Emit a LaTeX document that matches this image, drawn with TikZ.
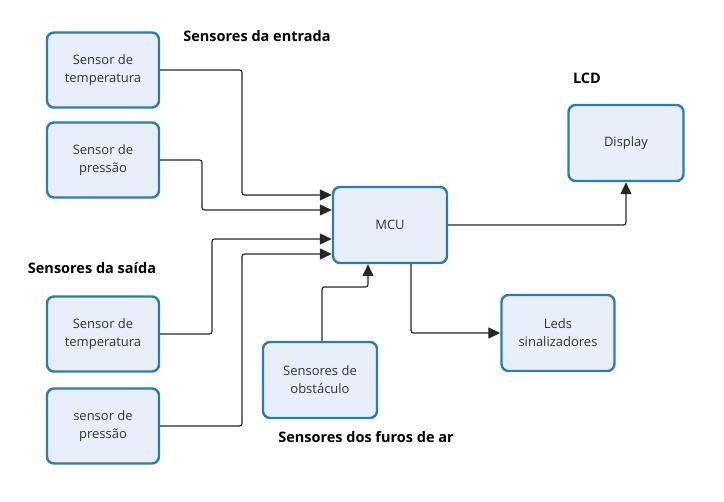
\documentclass[tikz,border=0pt]{standalone}
\usepackage{fontspec}
\setmainfont{Open Sans}
\usetikzlibrary{arrows.meta}
\definecolor{boxfill}{HTML}{E9EEFB}
\definecolor{boxline}{HTML}{2A7DB0}
\definecolor{boxtext}{HTML}{333333}
\tikzset{
  blk/.style={draw=boxline, line width=2.4pt, fill=boxfill, rounded corners=7pt,
    minimum width=112pt, minimum height=75pt, inner sep=0pt, align=center,
    text=boxtext, font=\fontsize{13}{18}\selectfont},
  conn/.style={draw=black!85, line width=1.2pt, rounded corners=2.5pt,
    -{Triangle[length=12pt,width=11pt]}},
  ttl/.style={font=\fontsize{14.5}{16}\selectfont\bfseries, text=black, inner sep=0pt}
}
\begin{document}
\begin{tikzpicture}[x=1pt,y=-1pt]
\useasboundingbox (0,0) rectangle (724,502);
\node[blk] (t1) at (103,70) {Sensor de\\temperatura};
\node[blk] (p1) at (103,160) {Sensor de\\pressão};
\node[blk] (t2) at (103,334) {Sensor de\\temperatura};
\node[blk] (p2) at (103,426) {sensor de\\pressão};
\node[blk, minimum width=114pt, minimum height=76pt] (mcu) at (390,225) {MCU};
\node[blk, minimum width=115pt, minimum height=76pt] (disp) at (626,143) {Display};
\node[blk, minimum width=113pt, minimum height=76pt] (leds) at (558,333) {Leds\\sinalizadores};
\node[blk, minimum width=114pt, minimum height=76pt] (obs) at (320,380) {Sensores de\\obstáculo};

\node[ttl] (l1) at (257,36) {Sensores da entrada};
\node[ttl] (l2) at (587,78) {LCD};
\node[ttl] (l3) at (92,268) {Sensores da saída};
\node[ttl] (l4) at (366,437) {Sensores dos furos de ar};

\draw[conn] (t1.east) -- (242,70) -- (242,195) -- (mcu.west |- 0,195);
\draw[conn] (p1.east) -- (202,160) -- (202,210) -- (mcu.west |- 0,210);
\draw[conn] (t2.east) -- (212,334) -- (212,239) -- (mcu.west |- 0,239);
\draw[conn] (p2.east) -- (242,426) -- (242,254) -- (mcu.west |- 0,254);
\draw[conn] (obs.north -| 322,0) -- (322,287) -- (368,287) -- (mcu.south -| 368,0);
\draw[conn] (mcu.east) -- (626,225) -- (disp.south);
\draw[conn] (mcu.south -| 411,0) -- (411,333) -- (leds.west);
\end{tikzpicture}
\end{document}
